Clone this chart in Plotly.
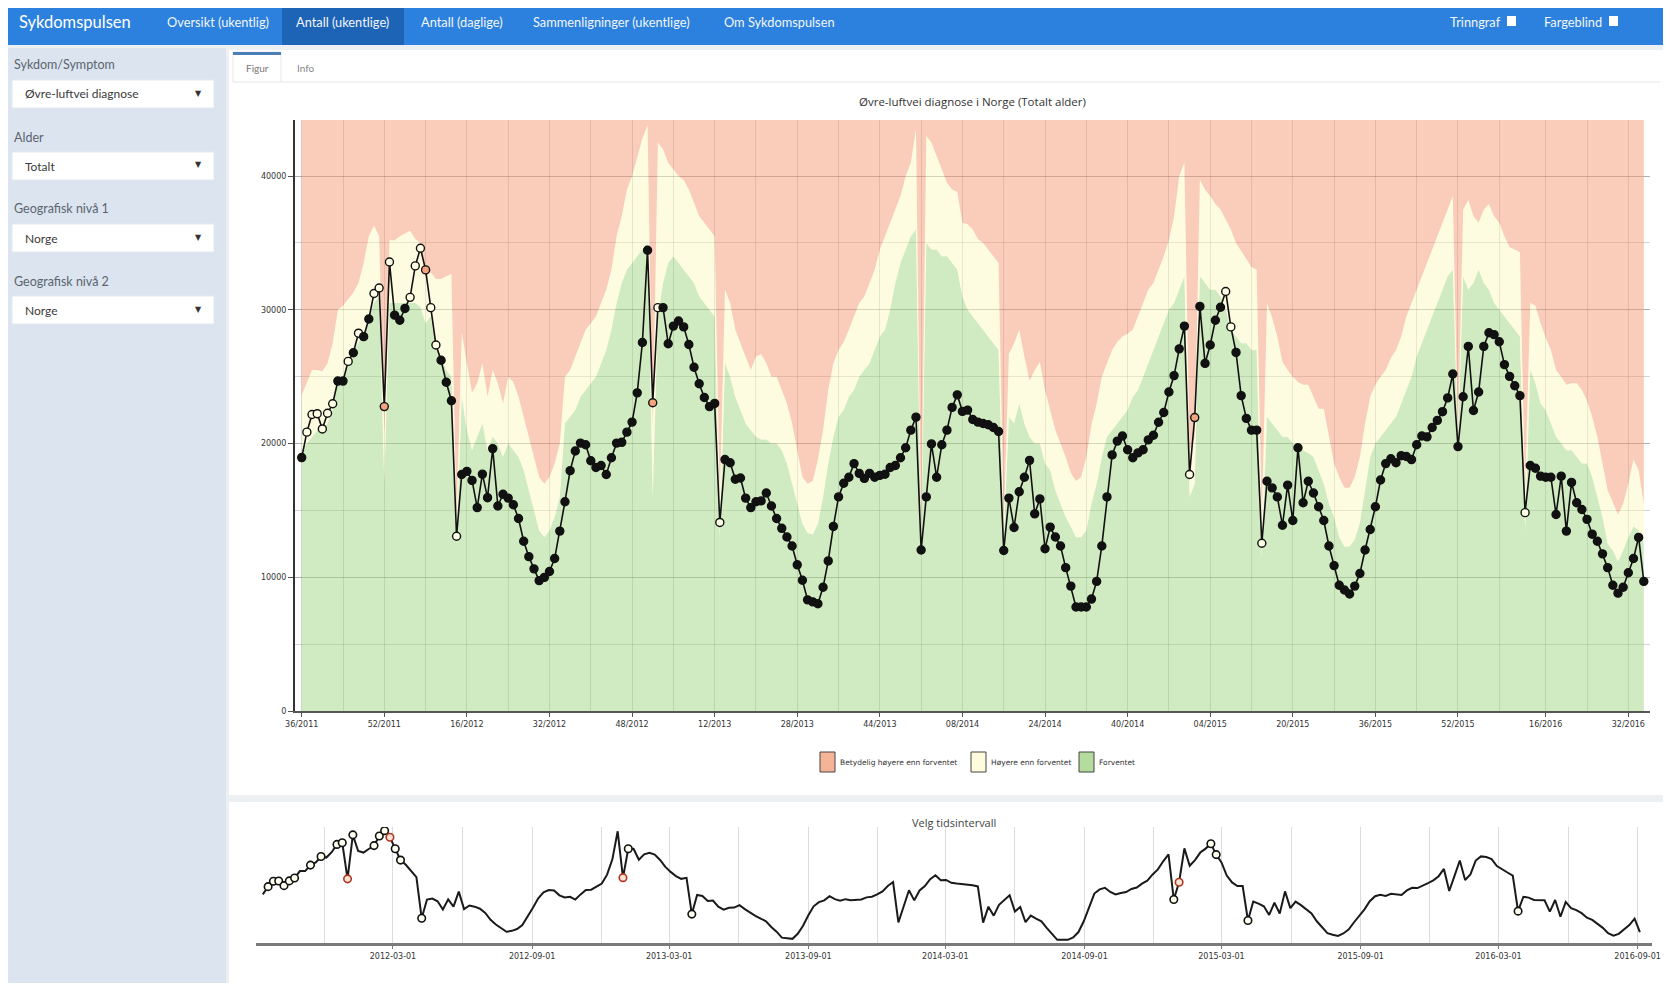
import plotly.graph_objects as go
import pandas as pd

# page is 1671x991; the browser body keeps its default 8px margin,
# so the figure itself is 16px smaller and every page coordinate is shifted by 8px
PAGE_W, PAGE_H = 1671, 991
OFF = 8
FIG_W, FIG_H = PAGE_W - 2 * OFF, PAGE_H - 2 * OFF

# ---------------- data ----------------
week_end_start = "2011-09-11"   # Sunday ending ISO week 36/2011

counts = [
    18950, 20850, 22170, 22230, 21090, 22260, 22970, 24670, 24670, 26140,
    26790, 28250, 27990, 29310, 31220, 31630, 22760, 33570, 29600, 29220,
    30100, 30930, 33280, 34600, 32980, 30160, 27370, 26230, 24580, 23200,
    13070, 17680, 17920, 17240, 15210, 17710, 15950, 19620, 15330, 16210,
    15920, 15420, 14390, 12690, 11540, 10630, 9750, 9990, 10430, 11400,
    13450, 15650, 17970, 19440, 20030, 19910, 18710, 18210, 18360, 17680,
    18940, 20030, 20090, 20850, 21600, 23790, 27550, 34450, 23050, 30160,
    30160, 27460, 28780, 29160, 28720, 27400, 25700, 24470, 23440, 22760,
    23000, 14100, 18800, 18560, 17330, 17420, 15920, 15210, 15650, 15710,
    16300, 15330, 14390, 13660, 13010, 12340, 10930, 9780, 8310, 8160,
    8020, 9250, 11220, 13800, 16010, 17030, 17480, 18500, 17770, 17390,
    17770, 17480, 17620, 17700, 18210, 18360, 18940, 19680, 21000, 21970,
    12040, 16010, 19970, 17480, 19910, 21000, 22700, 23640, 22400, 22500,
    21800, 21600, 21500, 21400, 21200, 20900, 12000, 15920, 13720, 16390,
    17480, 18740, 14740, 15860, 12130, 13750, 13010, 12340, 10720, 9340,
    7780, 7780, 7780, 8370, 9690, 12340, 16010, 19150, 20180, 20560,
    19530, 18940, 19300, 19530, 20270, 20620, 21590, 22320, 23850, 25080,
    27080, 28780, 17680, 21940, 30250, 25990, 27370, 29220, 30190, 31370,
    28720, 26810, 23580, 21880, 21000, 21000, 12540, 17180, 16680, 16010,
    13890, 16890, 14240, 19680, 15570, 17180, 16300, 15270, 14240, 12340,
    10870, 9400, 9050, 8750, 9340, 10280, 12040, 13570, 15270, 17270,
    18500, 18860, 18560, 19090, 19030, 18800, 19910, 20560, 20500, 21200,
    21730, 22380, 23410, 25200, 19770, 23500, 27260, 22470, 23850, 27260,
    28280, 28140, 27610, 25900, 25020, 24320, 23580, 14830, 18360, 18150,
    17560, 17480, 17480, 14690, 17560, 13450, 17090, 15570, 15070, 14330,
    13220, 12690, 11750, 10720, 9400, 8810, 9250, 10340, 11400, 12980,
    9690,
]

# upper edge of the "Forventet" (expected) band
expected_upper = [
    19500, 20000, 20500, 21000, 21000, 21500, 22500, 24800, 25000, 25800,
    26900, 27500, 28200, 29500, 30500, 31000, 17000, 30500, 30500, 30500,
    30500, 30500, 30500, 30200, 29000, 29500, 27000, 26500, 25500, 25000,
    12500, 23500, 21000, 19500, 20500, 21500, 19500, 20500, 20000, 19000,
    20000, 19500, 19000, 18000, 16500, 15000, 13500, 13000, 13500, 14500,
    16000, 21500, 22000, 22500, 23500, 24000, 24500, 25000, 26000, 27000,
    28500, 30500, 32000, 33000, 33500, 34000, 34500, 35000, 16000, 29500,
    32000, 33500, 34000, 33500, 33000, 32500, 32000, 31000, 30500, 30000,
    29500, 13000, 26000, 25000, 23500, 22500, 21500, 21000, 20500, 20300,
    20300, 20000, 20000, 19500, 18500, 17000, 15500, 14000, 13300, 13200,
    14000, 16000, 18500, 20500, 22000, 22500, 23500, 24000, 25000, 25500,
    26000, 27000, 28000, 28500, 30000, 32000, 33500, 34500, 35500, 36000,
    12400, 35000, 34500, 34500, 34000, 34000, 33500, 33000, 31000, 30000,
    29500, 29000, 28500, 28000, 27500, 27000, 12600, 22000, 21500, 23000,
    21500, 20500, 20000, 20000, 18500, 18000, 16500, 15500, 14500, 13800,
    13000, 13000, 13500, 15500, 17000, 19000, 20500, 21000, 21500, 22000,
    22500, 23500, 24000, 25000, 26000, 27000, 28000, 29000, 30000, 30500,
    31500, 32500, 16000, 17000, 32500, 32000, 31500, 31500, 31000, 30000,
    28500, 28000, 27500, 27500, 27000, 27000, 11500, 22000, 21500, 21000,
    20500, 20500, 20000, 19700, 19500, 19300, 19000, 18000, 17000, 15500,
    14500, 13000, 12300, 12300, 12800, 14100, 16500, 19000, 20000, 20500,
    21000, 21500, 22000, 23000, 24000, 25000, 26500, 27500, 28500, 29500,
    30500, 31500, 32500, 33000, 20000, 32500, 31500, 32000, 33000, 32000,
    31500, 30500, 30000, 29500, 29000, 28500, 28000, 13500, 25500, 24500,
    23000, 22500, 21500, 20500, 20000, 19500, 19500, 19000, 18500, 18500,
    17500, 16000, 14500, 12500, 12000, 11200, 12000, 13000, 13800, 13500,
    12500,
]

# upper edge of the "Høyere enn forventet" band
higher_upper = [
    23600, 24500, 25500, 25500, 25400, 26000, 27500, 30000, 30300, 30800,
    31300, 32000, 33500, 35500, 36300, 35500, 20800, 35200, 35200, 35500,
    35700, 35900, 35300, 35000, 32500, 32800, 32300, 32300, 32500, 32700,
    14500, 28300, 26000, 23800, 24500, 26000, 23500, 25500, 24500, 23000,
    25000, 24600, 23500, 22000, 20500, 19000, 17500, 17000, 17500, 18500,
    20000, 25000, 25500, 26500, 27500, 28500, 29000, 29500, 30500, 31500,
    33000, 35500, 37000, 39000, 40000, 41500, 42800, 43800, 21000, 42500,
    42000, 41000, 40500, 40000, 39700, 39000, 38000, 37000, 36500, 36000,
    35500, 16000, 31500, 30500, 28500, 27500, 26500, 25500, 26500, 26700,
    26000, 25000, 25000, 24000, 23000, 21500, 19500, 17500, 17000, 17200,
    18800, 21000, 24000, 26000, 27000, 27600, 28500, 29500, 30500, 31000,
    32000, 33000, 34500, 35500, 36500, 37500, 38500, 40000, 41000, 43500,
    13500, 43000, 42500, 41500, 40500, 39500, 39000, 38800, 36500, 36400,
    36000, 35300, 35000, 34500, 34000, 33500, 14000, 26700, 27500, 28500,
    26500, 24700, 25500, 26100, 24000, 22600, 21000, 20000, 19000, 17800,
    17200, 17500, 19000, 21400, 23000, 25000, 26000, 27000, 27600, 28000,
    28200, 28500, 29500, 30500, 31500, 32000, 33000, 34000, 35200, 37000,
    40000, 41000, 19500, 20500, 39700, 39000, 38500, 37900, 37500, 36700,
    36000, 35000, 34400, 33800, 33200, 33000, 14500, 30500, 29400, 28000,
    26100, 25500, 25000, 24600, 24400, 24400, 23500, 22600, 22600, 20500,
    18500, 17500, 16700, 16700, 17500, 19000, 21500, 23500, 24400, 25000,
    25500, 26400, 27000, 28000, 29500, 30500, 31500, 32500, 33500, 34500,
    35500, 36400, 37500, 38500, 20800, 37500, 38200, 37000, 36500, 37500,
    37900, 37000, 36500, 35500, 34700, 34500, 34300, 16500, 30500, 30300,
    29000, 27900, 27000, 25500, 25000, 24400, 24500, 24500, 24000, 23200,
    22000, 20500, 18500, 16500, 15600, 14700, 15500, 17000, 18800, 18000,
    15500,
]

# weeks flagged "Høyere enn forventet" / "Betydelig høyere enn forventet"
higher_idx = [1, 2, 3, 4, 5, 6, 9, 11, 14, 15, 17, 21, 22, 23, 25, 26, 30,
              69, 81, 172, 179, 180, 186, 237]
sig_idx = [16, 24, 68, 173]

tick_labels = ["36/2011", "52/2011", "16/2012", "32/2012", "48/2012", "12/2013",
               "28/2013", "44/2013", "08/2014", "24/2014", "40/2014", "04/2015",
               "20/2015", "36/2015", "52/2015", "16/2016", "32/2016"]
mini_tick_labels = ["2012-03-01", "2012-09-01", "2013-03-01", "2013-09-01",
                    "2014-03-01", "2014-09-01", "2015-03-01", "2015-09-01",
                    "2016-03-01", "2016-09-01"]
y_tick_vals = [0, 10000, 20000, 30000, 40000]
y_top = 44190

legend_items = [("Betydelig høyere enn forventet", "#F6B497"),
                ("Høyere enn forventet", "#FEFCDC"),
                ("Forventet", "#B4DC9C")]

# ---------------- derived ----------------
N = len(counts)
x = list(range(N))
dates = pd.date_range(week_end_start, periods=N, freq="7D")
iso = dates.isocalendar()
week_labels = [f"{int(w):02d}/{int(y)}" for y, w in zip(iso["year"], iso["week"])]
major_pos = [week_labels.index(t) for t in tick_labels]
minor_pos = [(a + b) // 2 for a, b in zip(major_pos[:-1], major_pos[1:])]

status = ["n"] * N
for i in higher_idx:
    status[i] = "h"
for i in sig_idx:
    status[i] = "s"
fill_map = {"n": "#111111", "h": "#FFFFE6", "s": "#F4A47F"}
marker_fill = [fill_map[s] for s in status]

FONT = "Lato"
CH_FONT = "DejaVu Sans"


def px(v):
    return (v - OFF) / FIG_W


def py(v):
    return 1 - (v - OFF) / FIG_H


shapes = []
annotations = []


def rect(x0, y0, x1, y1, fill, line_color=None, lw=0, layer="below"):
    shapes.append(dict(type="rect", xref="paper", yref="paper",
                       x0=px(x0), x1=px(x1), y0=py(y1), y1=py(y0),
                       fillcolor=fill, layer=layer,
                       line=dict(color=line_color or fill, width=lw)))


def text(xp, yp, s, size, color, anchor="left", family=FONT):
    annotations.append(dict(x=px(xp), y=py(yp), xref="paper", yref="paper",
                            text=s, showarrow=False, xanchor=anchor, yanchor="middle",
                            font=dict(size=size, color=color, family=family)))


# ---------------- page chrome ----------------
rect(0, 7, PAGE_W, 45, "#2B81DD")
rect(282, 7, 404, 45, "#1D63B6")
text(17, 22, "Sykdomspulsen", 16.5, "#FFFFFF")
for label, xpos in [("Oversikt (ukentlig)", 165), ("Antall (ukentlige)", 294),
                    ("Antall (daglige)", 419), ("Sammenligninger (ukentlige)", 531),
                    ("Om Sykdomspulsen", 722)]:
    text(xpos, 22, label, 12.8, "#F2F6FC")
text(1503, 22, "Trinngraf", 12.8, "#F2F6FC", anchor="right")
rect(1507, 16, 1516, 26, "#FFFFFF")
text(1604, 22, "Fargeblind", 12.8, "#F2F6FC", anchor="right")
rect(1609, 16, 1618, 26, "#FFFFFF")

# sidebar
rect(7, 48, 226, 995, "#DCE5EF")
for lbl, ly, val in [("Sykdom/Symptom", 65, "Øvre-luftvei diagnose"),
                     ("Alder", 137, "Totalt"),
                     ("Geografisk nivå 1", 209, "Norge"),
                     ("Geografisk nivå 2", 281, "Norge")]:
    text(12, ly, lbl, 12.5, "#5A6470")
    rect(12, ly + 15, 214, ly + 43, "#FFFFFF", "#E3E8EE", 1)
    text(23, ly + 29, val, 12, "#3A3A3A")
    text(198, ly + 28, "▼", 8, "#333333", anchor="center", family="DejaVu Sans")

# main panels
rect(229, 50, 1666, 795, "#FFFFFF")
rect(229, 802, 1666, 989, "#FFFFFF")
shapes.append(dict(type="line", xref="paper", yref="paper", x0=px(281), x1=px(1660),
                   y0=py(82), y1=py(82), line=dict(color="#E2E6EA", width=1), layer="below"))
rect(233, 52, 281, 82, "#FFFFFF", "#E2E6EA", 1)
rect(233, 52, 281, 55, "#4A7FB8")
text(257, 68, "Figur", 10, "#777777", anchor="center")
text(306, 68, "Info", 10, "#888888", anchor="center")

# chart titles
text(972, 101, "Øvre-luftvei diagnose i Norge (Totalt alder)", 11.5, "#333333",
     anchor="center", family="Open Sans")
text(954, 822, "Velg tidsintervall", 11, "#444444", anchor="center", family="Open Sans")

# legend
lx = 820
for lbl, col in legend_items:
    rect(lx, 752, lx + 15, 772, col, "#444444", 1, layer="above")
    text(lx + 18, 762, lbl, 7.5, "#333333", family=CH_FONT)
    lx += 18 + len(lbl) * 4.3 + 4

# ---------------- traces ----------------
PINK = "rgba(243,155,115,0.5)"
YELLOW = "rgba(253,249,193,0.5)"
GREEN = "rgba(161,213,131,0.5)"

fig = go.Figure()
fig.add_trace(go.Scatter(x=x, y=expected_upper, mode="lines", fill="tozeroy",
                         fillcolor=GREEN, line=dict(width=0), hoverinfo="skip",
                         showlegend=False))
fig.add_trace(go.Scatter(x=x, y=higher_upper, mode="lines", fill="tonexty",
                         fillcolor=YELLOW, line=dict(width=0), hoverinfo="skip",
                         showlegend=False))
fig.add_trace(go.Scatter(x=x, y=[y_top] * N, mode="lines", fill="tonexty",
                         fillcolor=PINK, line=dict(width=0), hoverinfo="skip",
                         showlegend=False))
fig.add_trace(go.Scatter(x=x, y=counts, mode="lines+markers",
                         line=dict(color="#111111", width=1.6),
                         marker=dict(size=8, color=marker_fill,
                                     line=dict(color="#111111", width=1.4)),
                         showlegend=False))

# mini chart
fig.add_trace(go.Scatter(x=dates, y=counts, mode="lines", xaxis="x2", yaxis="y2",
                         line=dict(color="#1A1A1A", width=2), showlegend=False))
fig.add_trace(go.Scatter(x=[dates[i] for i in higher_idx], y=[counts[i] for i in higher_idx],
                         mode="markers", xaxis="x2", yaxis="y2",
                         marker=dict(size=7.5, color="#FFFFF0",
                                     line=dict(color="#111111", width=1.6)),
                         showlegend=False))
fig.add_trace(go.Scatter(x=[dates[i] for i in sig_idx], y=[counts[i] for i in sig_idx],
                         mode="markers", xaxis="x2", yaxis="y2",
                         marker=dict(size=7.5, color="#FBE3D6",
                                     line=dict(color="#B0341E", width=1.6)),
                         showlegend=False))

GRID = "rgba(0,0,0,0.17)"
fig.update_layout(
    width=FIG_W, height=FIG_H,
    margin=dict(l=0, r=0, t=0, b=0),
    paper_bgcolor="#EDF0F3",
    plot_bgcolor="rgba(0,0,0,0)",
    shapes=shapes,
    annotations=annotations,
    showlegend=False,
    xaxis=dict(domain=[px(295), px(1650)], range=[-1.3, 261.2], anchor="y",
               tickmode="array", tickvals=major_pos, ticktext=tick_labels,
               showgrid=True, gridcolor=GRID, gridwidth=1,
               minor=dict(tickvals=minor_pos, showgrid=True, gridcolor=GRID, ticks=""),
               showline=True, linecolor="#555555", linewidth=2,
               ticks="outside", ticklen=4, tickcolor="#555555",
               tickfont=dict(size=8, color="#333333", family=CH_FONT),
               zeroline=False, fixedrange=True, automargin=False),
    yaxis=dict(domain=[py(711), py(120)], range=[0, y_top], anchor="x",
               tickmode="array", tickvals=y_tick_vals, tickformat="d",
               showgrid=True, gridcolor=GRID,
               minor=dict(dtick=5000, showgrid=True, gridcolor=GRID, ticks=""),
               showline=True, linecolor="#333333", linewidth=2,
               ticks="outside", ticklen=5, tickcolor="#555555",
               tickfont=dict(size=8, color="#333333", family=CH_FONT),
               zeroline=False, fixedrange=True, automargin=False),
    xaxis2=dict(domain=[px(256), px(1652)], range=["2011-09-02", "2016-09-20"],
                anchor="y2", type="date", tickmode="array", tickvals=mini_tick_labels,
                tickformat="%Y-%m-%d", showgrid=True, gridcolor="#DCDCDC",
                minor=dict(dtick="M3", tick0="2011-12-01", showgrid=True,
                           gridcolor="#DCDCDC", ticks=""),
                showline=True, linecolor="#7A7A7A", linewidth=3,
                ticks="outside", ticklen=3, tickcolor="#7A7A7A",
                tickfont=dict(size=8, color="#333333", family=CH_FONT),
                ticklabeloverflow="allow",
                zeroline=False, fixedrange=True, automargin=False),
    yaxis2=dict(domain=[py(943), py(827)], range=[7000, 35500], anchor="x2",
                visible=False, fixedrange=True),
)

fig.write_html("out.html", config={"displayModeBar": False})
